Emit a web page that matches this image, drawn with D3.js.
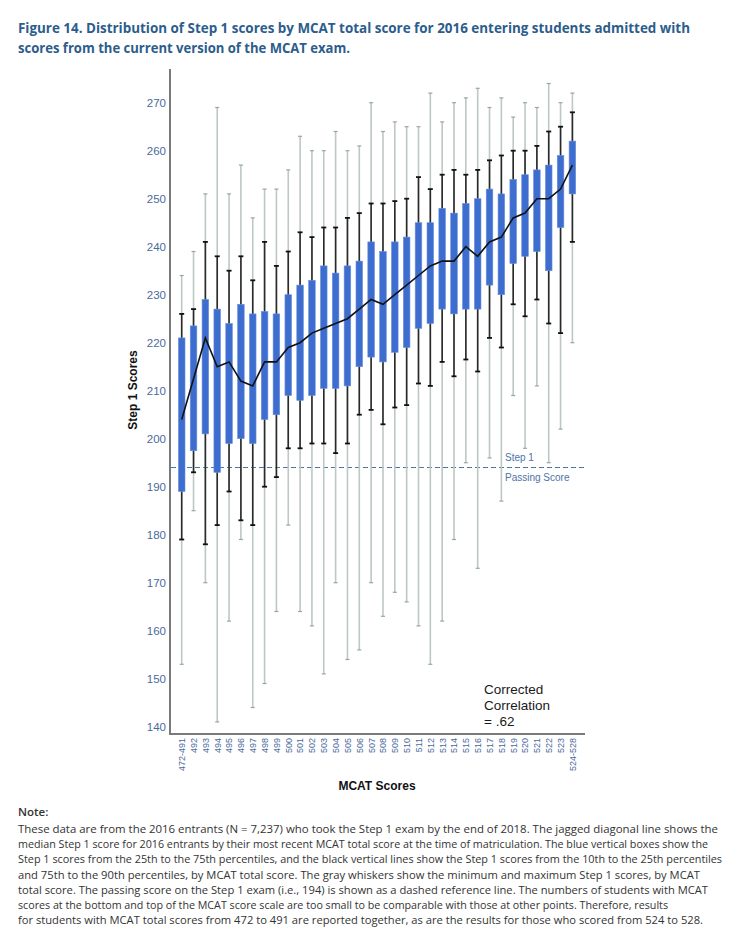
<!DOCTYPE html>
<html lang="en">
<head>
<meta charset="utf-8">
<title>Figure 14</title>
<script src="https://cdn.jsdelivr.net/npm/d3@7"></script>
<style>
  body { margin: 0; background: #fff; }
</style>
</head>
<body>
<script type="text/javascript">

var width = 750;
var height = 929;

// MCAT score groups
var labels = ["472-491","492","493","494","495","496","497","498","499","500",
  "501","502","503","504","505","506","507","508","509","510","511","512","513",
  "514","515","516","517","518","519","520","521","522","523","524-528"];

// Step 1 score percentiles per group
var minVals = [153,185,170,141,162,179,144,149,164,182,164,161,151,170,154,156,170,163,168,166,161,153,162,179,195,173,196,187,209,198,211,195,202,220];
var p10Vals = [179,193,178,182,189,183,182,190,192,198,198,199,199,197,199,205,206,203,206.5,207,211.5,211,216,213,216.5,214,221,219,228,225.5,229,224,222,241];
var p25Vals = [189,197.5,201,193,199,200,199,204,205,209,208,209,210.5,210.5,211,215,217,216,218,219,223,224,227,226,227,227,232,230,236.5,238,239,235,244,251];
var medVals = [204,212.5,221,215,216,212,211,216,216,219,220,222,223,224,225,227,229,228,230,232,234,236,237,237,240,238,241,242,246,247,250,250,252,257];
var p75Vals = [221,223.5,229,227,224,228,226,226.5,226,230,232,233,236,234.5,236,237,241,239,241,242,245,245,248,247,249,250,252,251,254,255,256,257,259,262];
var p90Vals = [226,227,241,238,235,238,233,241,236,239,243,242,244,244,246,247,249,249,249.5,250,254.5,252,255,256,255,256,258,259,260,260,261,264,265,268];
var maxVals = [234,239,251,269,251,257,246,252,252,256,263,260,260,264,260,261,270,264,266,265,265,272,266,270,271,273,269,271,267,270,269,274,270,272];

var yTicks = [140,150,160,170,180,190,200,210,220,230,240,250,260,270];
var passingScore = 194;

var titleLines = [
  "Figure 14. Distribution of Step 1 scores by MCAT total score for 2016 entering students admitted with",
  "scores from the current version of the MCAT exam."
];
var noteLines = [
  "These data are from the 2016 entrants (N = 7,237) who took the Step 1 exam by the end of 2018. The jagged diagonal line shows the",
  "median Step 1 score for 2016 entrants by their most recent MCAT total score at the time of matriculation. The blue vertical boxes show the",
  "Step 1 scores from the 25th to the 75th percentiles, and the black vertical lines show the Step 1 scores from the 10th to the 25th percentiles",
  "and 75th to the 90th percentiles, by MCAT total score. The gray whiskers show the minimum and maximum Step 1 scores, by MCAT",
  "total score. The passing score on the Step 1 exam (i.e., 194) is shown as a dashed reference line. The numbers of students with MCAT",
  "scores at the bottom and top of the MCAT score scale are too small to be comparable with those at other points. Therefore, results",
  "for students with MCAT total scores from 472 to 491 are reported together, as are the results for those who scored from 524 to 528."
];
var noteWidths = [700, 690, 704, 682, 690, 650, 685];
var corrLines = ["Corrected", "Correlation", "= .62"];

var data = labels.map(function(l, i) {
  return {label: l, min: minVals[i], p10: p10Vals[i], p25: p25Vals[i],
          med: medVals[i], p75: p75Vals[i], p90: p90Vals[i], max: maxVals[i]};
});

var sans = "'Liberation Sans', Arial, sans-serif";
var myriad = "'Open Sans', 'Noto Sans', sans-serif";

var svg = d3.select("body").append("svg")
  .attr("width", width)
  .attr("height", height);

var x = d3.scalePoint().domain(labels).range([181.7, 572.4]);
var y = d3.scaleLinear().domain([140, 270]).range([726.7, 102.7]);

var tickColor = "#4a6a9c";

// title
svg.selectAll(".title")
  .data(titleLines)
  .enter().append("text")
  .attr("x", 18)
  .attr("y", function(d, i) { return 33 + i * 20; })
  .attr("fill", "#2c5d8c")
  .style("font-family", myriad)
  .style("font-size", "14px")
  .style("font-weight", "bold")
  .attr("textLength", function(d, i) { return i == 0 ? 672 : 332; })
  .attr("lengthAdjust", "spacingAndGlyphs")
  .text(function(d) { return d; });

// axes lines
var axisG = svg.append("g");
axisG.append("line")
  .attr("x1", 170).attr("x2", 170)
  .attr("y1", y(277)).attr("y2", y(138.5))
  .attr("stroke", "#7a7a7a").attr("stroke-width", 2);
axisG.append("line")
  .attr("x1", 169).attr("x2", 585)
  .attr("y1", y(138.5)).attr("y2", y(138.5))
  .attr("stroke", "#7a7a7a").attr("stroke-width", 2);

// y tick labels
var yAxis = d3.axisLeft(y).tickValues(yTicks).tickSize(0).tickPadding(0);
var yg = svg.append("g").attr("transform", "translate(166,0)").call(yAxis);
yg.select(".domain").remove();
yg.selectAll("text")
  .attr("fill", tickColor)
  .style("font-size", "11.5px")
  .style("font-family", sans);

svg.append("text")
  .attr("transform", "translate(137," + 390 + ") rotate(-90)")
  .attr("text-anchor", "middle")
  .style("font-size", "12px")
  .style("font-weight", "bold")
  .style("font-family", sans)
  .attr("fill", "#111")
  .text("Step 1 Scores");

// x tick labels
var xAxis = d3.axisBottom(x).tickSize(0).tickPadding(0);
var xg = svg.append("g").attr("transform", "translate(0,738)").call(xAxis);
xg.select(".domain").remove();
xg.selectAll("text")
  .attr("fill", tickColor)
  .style("font-size", "9px")
  .style("font-family", sans)
  .attr("text-anchor", "end")
  .attr("dy", "0.32em")
  .attr("transform", "rotate(-90)");

svg.append("text")
  .attr("x", 377)
  .attr("y", 790)
  .attr("text-anchor", "middle")
  .style("font-size", "12px")
  .style("font-weight", "bold")
  .style("font-family", sans)
  .attr("fill", "#111")
  .text("MCAT Scores");

// passing score line
svg.append("line")
  .attr("x1", 171).attr("x2", 584)
  .attr("y1", y(passingScore)).attr("y2", y(passingScore))
  .attr("stroke", "#4f73a8").attr("stroke-width", 1)
  .attr("stroke-dasharray", "5,3");

svg.append("text")
  .attr("x", 505).attr("y", y(passingScore) - 7)
  .attr("fill", "#4f73a8")
  .style("font-size", "10px")
  .style("font-family", sans)
  .text("Step 1");
svg.append("text")
  .attr("x", 505).attr("y", y(passingScore) + 13)
  .attr("fill", "#4f73a8")
  .style("font-size", "10px")
  .style("font-family", sans)
  .text("Passing Score");

// boxes
var boxes = svg.selectAll(".box")
  .data(data)
  .enter().append("g")
  .attr("transform", function(d) { return "translate(" + x(d.label) + ",0)"; });

// gray min-max whiskers
boxes.append("line")
  .attr("y1", function(d) { return y(d.min); })
  .attr("y2", function(d) { return y(d.max); })
  .attr("stroke", "#bcc8c4").attr("stroke-width", 1.6);
boxes.append("line")
  .attr("x1", -2).attr("x2", 2)
  .attr("y1", function(d) { return y(d.max); })
  .attr("y2", function(d) { return y(d.max); })
  .attr("stroke", "#9aa5a2").attr("stroke-width", 1.2);
boxes.append("line")
  .attr("x1", -2).attr("x2", 2)
  .attr("y1", function(d) { return y(d.min); })
  .attr("y2", function(d) { return y(d.min); })
  .attr("stroke", "#9aa5a2").attr("stroke-width", 1.2);

// black 10-90 lines
boxes.append("line")
  .attr("y1", function(d) { return y(d.p10); })
  .attr("y2", function(d) { return y(d.p90); })
  .attr("stroke", "#2a2a2a").attr("stroke-width", 1.6);
boxes.append("line")
  .attr("x1", -2.5).attr("x2", 2.5)
  .attr("y1", function(d) { return y(d.p90); })
  .attr("y2", function(d) { return y(d.p90); })
  .attr("stroke", "#111").attr("stroke-width", 1.8);
boxes.append("line")
  .attr("x1", -2.5).attr("x2", 2.5)
  .attr("y1", function(d) { return y(d.p10); })
  .attr("y2", function(d) { return y(d.p10); })
  .attr("stroke", "#111").attr("stroke-width", 1.8);

// blue 25-75 boxes
boxes.append("rect")
  .attr("x", -3.3)
  .attr("width", 6.6)
  .attr("y", function(d) { return y(d.p75); })
  .attr("height", function(d) { return y(d.p25) - y(d.p75); })
  .attr("fill", "#3d6dcf")
  .attr("stroke", "#6b90dc")
  .attr("stroke-width", 0.6);

// median line
var line = d3.line()
  .x(function(d) { return x(d.label); })
  .y(function(d) { return y(d.med); });
svg.append("path")
  .datum(data)
  .attr("d", line)
  .attr("fill", "none")
  .attr("stroke", "#111")
  .attr("stroke-width", 1.6);

// correlation text
svg.selectAll(".corr")
  .data(corrLines)
  .enter().append("text")
  .attr("x", 484)
  .attr("y", function(d, i) { return 694 + i * 16; })
  .style("font-size", "13.5px")
  .style("font-family", sans)
  .attr("fill", "#1a1a1a")
  .text(function(d) { return d; });

// note
svg.append("text")
  .attr("x", 18).attr("y", 816)
  .style("font-size", "11.5px")
  .style("font-weight", "600")
  .style("font-family", myriad)
  .attr("fill", "#333")
  .text("Note:");
svg.selectAll(".note")
  .data(noteLines)
  .enter().append("text")
  .attr("x", 18)
  .attr("y", function(d, i) { return 833 + i * 15.2; })
  .style("font-size", "11px")
  .style("font-family", myriad)
  .attr("fill", "#333")
  .attr("textLength", function(d, i) { return noteWidths[i]; })
  .attr("lengthAdjust", "spacingAndGlyphs")
  .text(function(d) { return d; });

</script>
</body>
</html>
